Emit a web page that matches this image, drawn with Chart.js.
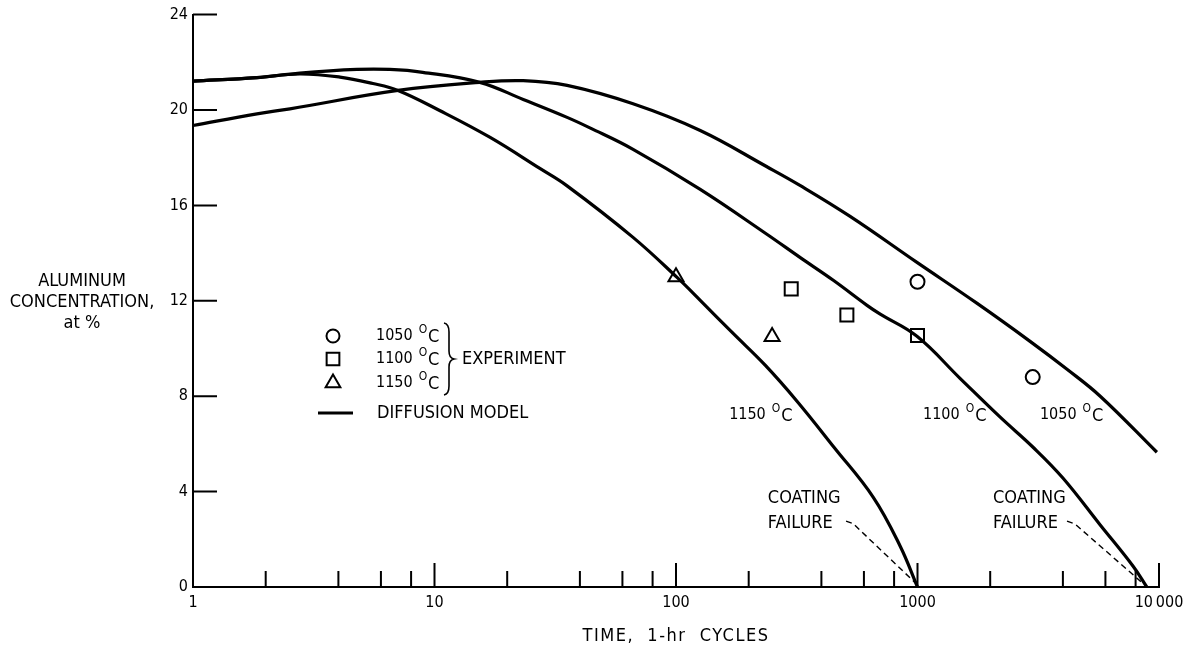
<!DOCTYPE html>
<html>
<head>
<meta charset="utf-8">
<title>Aluminum concentration vs time</title>
<script src="https://cdn.jsdelivr.net/npm/chart.js@4.4.1/dist/chart.umd.min.js"></script>
<style>
  html, body { margin: 0; padding: 0; background: #fff; }
  #wrap { width: 1199px; height: 650px; }
</style>
</head>
<body>
<div id="wrap"><canvas id="chart" width="1199" height="650"></canvas></div>
<script>
"use strict";

// ── Data ──────────────────────────────────────────────────
// diffusion model curves (time in 1-hr cycles, Al at %)
const model1050X = [1, 1.84, 2.52, 7.06, 15.4, 23.3, 35.4, 66.4, 126, 237, 326, 526, 995, 1760, 2925, 4160, 5710, 9800];
const model1050Y = [19.35, 19.84, 20.05, 20.82, 21.16, 21.23, 21.03, 20.26, 19.14, 17.63, 16.84, 15.54, 13.61, 11.9, 10.3, 9.13, 8.0, 5.65];

const model1100X = [1, 1.84, 2.77, 4.77, 6.53, 8.94, 15.4, 23.3, 35.4, 44, 66.4, 126, 237, 326, 448, 618, 701, 995, 1500, 2200, 3010, 4000, 5710, 7800, 8900];
const model1100Y = [21.21, 21.36, 21.55, 21.7, 21.7, 21.58, 21.16, 20.44, 19.69, 19.25, 18.35, 16.67, 14.8, 13.82, 12.86, 11.81, 11.44, 10.51, 8.75, 7.12, 5.86, 4.57, 2.6, 0.88, 0];

const model1150X = [1, 1.84, 2.77, 4.06, 5.56, 7.06, 10.5, 17, 27.3, 35.4, 66.4, 101, 126, 172, 234, 317, 451, 655, 847, 1000];
const model1150Y = [21.21, 21.36, 21.51, 21.38, 21.11, 20.82, 19.98, 18.85, 17.55, 16.82, 14.66, 12.98, 12.02, 10.64, 9.3, 7.79, 5.86, 3.77, 1.72, 0];

// experiment points
const exp1050X = [1000, 3000];
const exp1050Y = [12.8, 8.8];
const exp1100X = [300, 510, 1000];
const exp1100Y = [12.5, 11.4, 10.55];
const exp1150X = [100, 250];
const exp1150Y = [13.0, 10.5];

// axes
const xTickValues = [1, 10, 100, 1000, 10000];
const xTickLabels = ["1", "10", "100", "1000", "10\u2009000"];
const xMinorTicks = [2, 4, 6, 8, 20, 40, 60, 80, 200, 400, 600, 800, 2000, 4000, 6000, 8000];
const yTickValues = [0, 4, 8, 12, 16, 20, 24];
const yTitleLines = ["ALUMINUM", "CONCENTRATION,", "at %"];

// labels placed in data coordinates
const curveLabels = [
  { temp: "1150", x: 166, y: 7.2 },
  { temp: "1100", x: 1054, y: 7.2 },
  { temp: "1050", x: 3214, y: 7.2 },
];
const failureNotes = [
  { x: 240, line: [[506, 2.76], [541, 2.66], [985, 0.15]] },
  { x: 2054, line: [[4160, 2.76], [4490, 2.64], [8650, 0.12]] },
];

// ── Helpers ───────────────────────────────────────────────
const FONT = '"DejaVu Sans Condensed", "Liberation Sans Narrow", sans-serif';
const CAPS = `18px ${FONT}`;
const DIGITS = `16px ${FONT}`;
const pts = (xs, ys) => xs.map((v, i) => ({ x: v, y: ys[i] }));

// "1050 °C" drawn with a raised small O, as in the figure
function degText(ctx, num, x, y) {
  ctx.textAlign = "left";
  ctx.textBaseline = "middle";
  ctx.font = DIGITS;
  ctx.fillText(num, x, y);
  let cx = x + ctx.measureText(num).width + 6;
  ctx.font = `12px ${FONT}`;
  ctx.fillText("O", cx, y - 6);
  cx += ctx.measureText("O").width + 1;
  ctx.font = CAPS;
  ctx.fillText("C", cx, y + 1);
}

// ── Plugins ───────────────────────────────────────────────
const insideTicks = {
  id: "insideTicks",
  beforeDatasetsDraw(chart) {
    const { ctx, chartArea: a, scales: { x, y } } = chart;
    ctx.save();
    ctx.strokeStyle = "#000";
    ctx.lineWidth = 2;
    ctx.beginPath();
    yTickValues.forEach(v => {
      const py = y.getPixelForValue(v);
      ctx.moveTo(a.left, py);
      ctx.lineTo(a.left + 24, py);
    });
    xTickValues.forEach(v => {
      const px = x.getPixelForValue(v);
      ctx.moveTo(px, a.bottom);
      ctx.lineTo(px, a.bottom - 24);
    });
    xMinorTicks.forEach(v => {
      const px = x.getPixelForValue(v);
      ctx.moveTo(px, a.bottom);
      ctx.lineTo(px, a.bottom - 16);
    });
    ctx.stroke();
    ctx.restore();
  },
};

const notes = {
  id: "notes",
  afterDraw(chart) {
    const { ctx, chartArea: a, scales: { x, y } } = chart;
    ctx.save();
    ctx.fillStyle = "#000";
    ctx.strokeStyle = "#000";
    ctx.font = CAPS;
    ctx.textBaseline = "middle";

    // axis titles
    ctx.textAlign = "center";
    yTitleLines.forEach((t, i) => ctx.fillText(t, 82, 281 + i * 21));
    ctx.letterSpacing = "1.5px";
    ctx.fillText("TIME,  1-hr  CYCLES", (a.left + a.right) / 2, 636);
    ctx.letterSpacing = "0px";

    // curve labels
    curveLabels.forEach(l => degText(ctx, l.temp, x.getPixelForValue(l.x), y.getPixelForValue(l.y)));

    // coating failure notes
    failureNotes.forEach(n => {
      const px = x.getPixelForValue(n.x);
      ctx.font = CAPS;
      ctx.textAlign = "left";
      ctx.fillText("COATING", px, 498);
      ctx.fillText("FAILURE", px, 523);
      ctx.lineWidth = 1.4;
      ctx.setLineDash([6, 4]);
      ctx.beginPath();
      n.line.forEach(([vx, vy], i) => {
        const X = x.getPixelForValue(vx), Y = y.getPixelForValue(vy);
        i ? ctx.lineTo(X, Y) : ctx.moveTo(X, Y);
      });
      ctx.stroke();
      ctx.setLineDash([]);
    });

    // legend
    const lx = 333;
    const rows = [
      { style: "circle", r: 6.5, temp: "1050", y: 336 },
      { style: "rect", r: 9, temp: "1100", y: 359 },
      { style: "triangle", r: 8.5, temp: "1150", y: 383 },
    ];
    rows.forEach(r => {
      ctx.fillStyle = "#fff";
      ctx.lineWidth = 2;
      Chart.helpers.drawPoint(ctx, { pointStyle: r.style, radius: r.r, borderWidth: 2, rotation: 0 }, lx, r.y);
      ctx.fillStyle = "#000";
      degText(ctx, r.temp, 376, r.y);
    });
    // brace
    ctx.lineWidth = 1.6;
    ctx.beginPath();
    ctx.moveTo(444, 323);
    ctx.quadraticCurveTo(449, 324, 449, 332);
    ctx.lineTo(449, 351);
    ctx.quadraticCurveTo(449, 358, 454, 359);
    ctx.quadraticCurveTo(449, 360, 449, 367);
    ctx.lineTo(449, 386);
    ctx.quadraticCurveTo(449, 394, 444, 395);
    ctx.stroke();
    ctx.font = CAPS;
    ctx.textAlign = "left";
    ctx.fillText("EXPERIMENT", 462, 359);
    // model line
    ctx.lineWidth = 3.2;
    ctx.beginPath();
    ctx.moveTo(318, 413);
    ctx.lineTo(353, 413);
    ctx.stroke();
    ctx.fillText("DIFFUSION MODEL", 377, 413);

    ctx.restore();
  },
};

// ── Chart ─────────────────────────────────────────────────
Chart.defaults.font.family = FONT;
Chart.defaults.font.size = 16;
Chart.defaults.color = "#000";

const curve = (xs, ys) => ({
  data: pts(xs, ys),
  showLine: true,
  borderColor: "#000",
  borderWidth: 3.2,
  pointRadius: 0,
  tension: 0.4,
  fill: false,
  clip: false,
});
const marks = (xs, ys, style, r) => ({
  data: pts(xs, ys),
  showLine: false,
  pointStyle: style,
  pointRadius: r,
  pointBorderWidth: 2,
  pointBorderColor: "#000",
  pointBackgroundColor: "#fff",
  clip: false,
});

new Chart(document.getElementById("chart"), {
  type: "scatter",
  data: {
    datasets: [
      curve(model1050X, model1050Y),
      curve(model1100X, model1100Y),
      curve(model1150X, model1150Y),
      marks(exp1050X, exp1050Y, "circle", 7),
      marks(exp1100X, exp1100Y, "rect", 9.2),
      marks(exp1150X, exp1150Y, "triangle", 8.7),
    ],
  },
  options: {
    responsive: false,
    devicePixelRatio: 1,
    animation: false,
    layout: { padding: { top: 14, right: 40, left: 0, bottom: 0 } },
    plugins: { legend: { display: false }, tooltip: { enabled: false } },
    scales: {
      x: {
        type: "logarithmic",
        min: 1,
        max: 10000,
        grid: { display: false, drawTicks: false },
        border: { display: true, color: "#000", width: 2 },
        ticks: {
          autoSkip: false,
          maxRotation: 0,
          padding: 6,
          callback: (v, i) => xTickLabels[i],
        },
        afterBuildTicks: s => { s.ticks = xTickValues.map(v => ({ value: v })); },
        afterFit: s => { s.height = 63; },
      },
      y: {
        min: 0,
        max: 24,
        grid: { display: false, drawTicks: false },
        border: { display: true, color: "#000", width: 2 },
        ticks: { stepSize: 4, padding: 5 },
        afterBuildTicks: s => { s.ticks = yTickValues.map(v => ({ value: v })); },
        afterFit: s => { s.width = 193; },
      },
    },
  },
  plugins: [insideTicks, notes],
});
</script>
</body>
</html>
